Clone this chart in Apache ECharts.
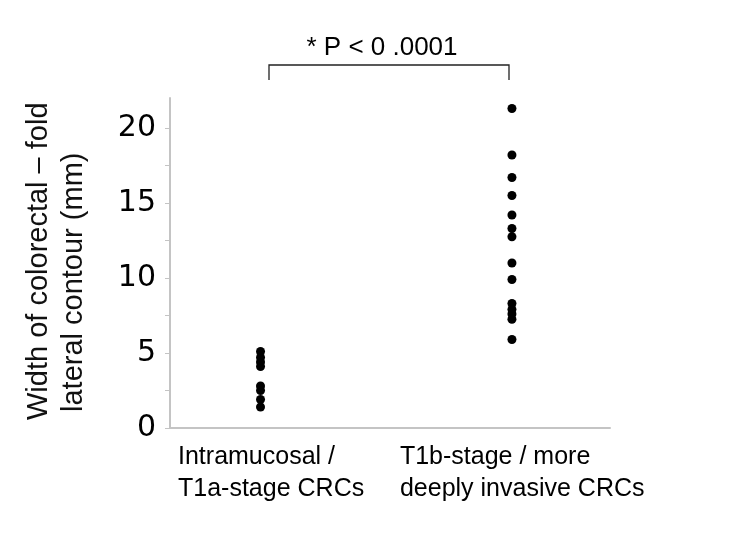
<!DOCTYPE html>
<html>
<head>
<meta charset="utf-8">
<script src="https://cdn.jsdelivr.net/npm/echarts@6/dist/echarts.min.js"></script>
<style>
  html, body { margin: 0; padding: 0; background: #fff; }
  #chart { width: 750px; height: 537px; }
</style>
</head>
<body>
<div id="chart"></div>
<script>
// groups on the x axis
const groupNames = [
  ['Intramucosal /', 'T1a-stage CRCs'],
  ['T1b-stage / more', 'deeply invasive CRCs']
]
const groupX = [1, 2]

// width of fold contour, mm
const intramucosal = [5.1, 4.7, 4.4, 4.1, 2.8, 2.5, 1.9, 1.4]
const invasive = [21.3, 18.2, 16.7, 15.5, 14.2, 13.3, 12.75, 11.0, 9.9, 8.3, 7.9, 7.6, 7.25, 5.9]

const yLabels = [0, 5, 10, 15, 20]
const yTicks = [0, 2.5, 5, 7.5, 10, 12.5, 15, 17.5, 20]
const yTitle = ['Width of colorectal \u2013 fold', 'lateral contour (mm)']
const pText = '* P < 0 .0001'

const chart = echarts.init(document.getElementById('chart'))

const sans = 'Liberation Sans, Arial, sans-serif'
const axisGray = '#c4c4c4'

chart.setOption({
  animation: false,
  grid: { left: 170, right: 140, top: 98, bottom: 109 },
  xAxis: {
    type: 'value',
    min: 0.64,
    max: 2.39,
    axisLine: { show: true, onZero: false, lineStyle: { color: axisGray, width: 2 } },
    axisTick: { show: false },
    splitLine: { show: false },
    axisLabel: {
      customValues: groupX,
      margin: 13,
      formatter: v => {
        const i = groupX.indexOf(v)
        const key = i === 0 ? 'a' : 'b'
        return groupNames[i].map(s => '{' + key + '|' + s + '}').join('\n')
      },
      rich: {
        a: { width: 190, align: 'left', padding: [0, 0, 0, 25], fontFamily: sans, fontSize: 25, lineHeight: 32, color: '#000' },
        b: { width: 245, align: 'left', padding: [0, 0, 0, 21], fontFamily: sans, fontSize: 25, lineHeight: 32, color: '#000' }
      }
    }
  },
  yAxis: {
    type: 'value',
    min: 0,
    max: 22,
    axisLine: { show: true, lineStyle: { color: axisGray, width: 2 } },
    axisTick: { show: true, customValues: yTicks, length: 5, lineStyle: { color: axisGray, width: 1 } },
    splitLine: { show: false },
    axisLabel: {
      customValues: yLabels,
      margin: 14,
      fontFamily: 'DejaVu Sans',
      fontSize: 30,
      color: '#000'
    }
  },
  series: [
    {
      type: 'scatter',
      symbolSize: 9,
      itemStyle: { color: '#000', opacity: 1 },
      data: intramucosal.map(v => [groupX[0], v])
    },
    {
      type: 'scatter',
      symbolSize: 9,
      itemStyle: { color: '#000', opacity: 1 },
      data: invasive.map(v => [groupX[1], v])
    }
  ],
  graphic: [
    {
      type: 'text', x: 39, y: 420, rotation: Math.PI / 2,
      style: { text: yTitle[0], fontFamily: sans, fontSize: 29, fill: '#111', align: 'left', verticalAlign: 'middle' }
    },
    {
      type: 'text', x: 74, y: 412, rotation: Math.PI / 2,
      style: { text: yTitle[1], fontFamily: sans, fontSize: 29, fill: '#111', align: 'left', verticalAlign: 'middle' }
    },
    {
      type: 'polyline',
      shape: { points: [[269, 80], [269, 65], [509, 65], [509, 80]] },
      style: { stroke: '#222', lineWidth: 1.3, fill: null }
    },
    {
      type: 'text', x: 382, y: 48,
      style: { text: pText, fontFamily: sans, fontSize: 26, fill: '#000', align: 'center', verticalAlign: 'middle' }
    }
  ]
})
</script>
</body>
</html>
